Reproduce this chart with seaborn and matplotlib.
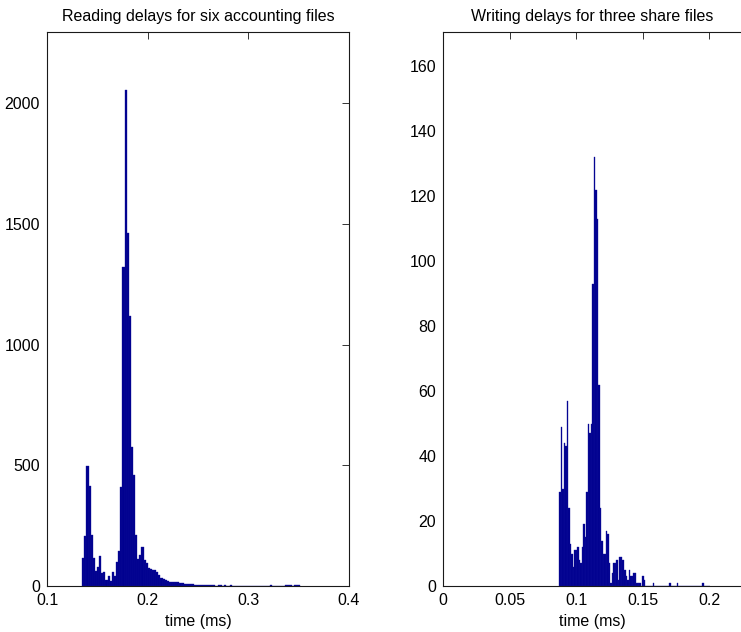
import numpy as np
import pandas as pd
import seaborn as sns
import matplotlib
matplotlib.use('Agg')
from matplotlib import pyplot as plt

# histogram bins (counts per bin)
read_start = 0.135
read_width = 0.0021
read_counts = [115, 209, 497, 413, 212, 115, 62, 79, 124, 54,
               57, 25, 40, 20, 57, 40, 99, 146, 410, 1322,
               2055, 1463, 1116, 576, 459, 212, 112, 129, 162, 107,
               95, 74, 70, 68, 66, 60, 45, 35, 30, 26,
               20, 18, 16, 16, 18, 16, 13, 12, 10, 9,
               8, 8, 7, 6, 5, 5, 5, 4, 4, 3,
               4, 3, 3, 2, 3, 3, 2, 3, 2, 2,
               3, 1, 2, 1, 2, 1, 0, 1, 0, 2,
               0, 0, 0, 0, 0, 0, 0, 0, 0, 3,
               0, 0, 0, 0, 0, 0, 4, 4, 4, 0,
               4, 4, 4]

write_start = 0.0875
write_width = 0.00113
write_counts = [29, 49, 30, 44, 43, 57, 24, 13, 10, 6,
                11, 11, 12, 8, 7, 12, 19, 15, 29, 50,
                47, 50, 93, 132, 122, 113, 62, 24, 14, 10,
                10, 17, 16, 7, 1, 4, 7, 7, 8, 2,
                9, 9, 8, 5, 3, 2, 5, 3, 3, 4,
                4, 1, 1, 1, 0, 3, 2, 0, 0, 0,
                0, 0, 1, 0, 0, 0, 0, 0, 0, 0,
                0, 0, 0, 1, 0, 0, 0, 0, 1, 0,
                0, 0, 0, 0, 0, 0, 0, 0, 0, 0,
                0, 0, 0, 0, 0, 1, 0, 0, 0, 0]

read_title = 'Reading delays for six accounting files'
write_title = 'Writing delays for three share files'
xlabel = 'time (ms)'
read_xticks = [0.1, 0.2, 0.3, 0.4]
read_xlabels = ['0.1', '0.2', '0.3', '0.4']
read_yticks = [0, 500, 1000, 1500, 2000]
write_xticks = [0, 0.05, 0.1, 0.15, 0.2]
write_xlabels = ['0', '0.05', '0.1', '0.15', '0.2']
write_yticks = [0, 20, 40, 60, 80, 100, 120, 140, 160]

sns.set_style('white')
plt.rcParams['font.family'] = ['Liberation Sans', 'DejaVu Sans']
plt.rcParams['text.color'] = 'black'
plt.rcParams['axes.labelcolor'] = 'black'
plt.rcParams['xtick.color'] = 'black'
plt.rcParams['ytick.color'] = 'black'

navy = '#00008f'
fs = 11.5


def draw_hist(ax, start, width, counts):
    n = len(counts)
    df = pd.DataFrame({'t': start + width * (np.arange(n) + 0.5), 'n': counts})
    sns.histplot(data=df, x='t', weights='n', binwidth=width,
                 binrange=(start, start + width * n), ax=ax, color=navy,
                 edgecolor='#10109a', linewidth=0.25, alpha=1)


def style_axes(ax):
    for s in ax.spines.values():
        s.set_color('#1a1a1a')
        s.set_linewidth(0.8)
    ax.tick_params(direction='in', top=True, right=True, length=5,
                   width=0.7, color='#333333', labelcolor='black',
                   labelsize=fs, pad=5)
    ax.set_ylabel('')


fig = plt.figure(figsize=(7.41, 6.32), dpi=100)

W, H = 741, 632
ax1 = fig.add_axes([47 / W, 46 / H, 302 / W, 554 / H])
draw_hist(ax1, read_start, read_width, read_counts)
ax1.set_xlim(0.1, 0.4)
ax1.set_ylim(0, 2294)
ax1.set_xticks(read_xticks)
ax1.set_xticklabels(read_xlabels)
ax1.set_yticks(read_yticks)
ax1.set_title(read_title, fontsize=fs, pad=8)
ax1.set_xlabel(xlabel, fontsize=fs)
ax1.xaxis.set_label_coords(0.5, -0.05)
style_axes(ax1)

ax2 = fig.add_axes([443 / W, 46 / H, 0.25 * 1330 / W, 554 / H])
draw_hist(ax2, write_start, write_width, write_counts)
ax2.set_xlim(0, 0.25)
ax2.set_ylim(0, 170.5)
ax2.set_xticks(write_xticks)
ax2.set_xticklabels(write_xlabels)
ax2.set_yticks(write_yticks)
ax2.set_title(write_title, fontsize=fs, x=(0.225 / 2) / 0.25, pad=8)
ax2.set_xlabel(xlabel, fontsize=fs)
ax2.xaxis.set_label_coords((0.225 / 2) / 0.25, -0.05)
style_axes(ax2)

fig.savefig('out.png', dpi=100)
